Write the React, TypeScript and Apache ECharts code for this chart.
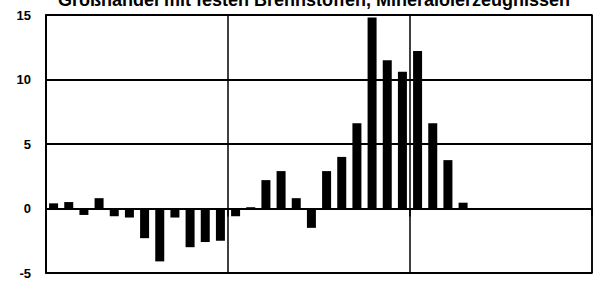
import React, { useEffect, useRef } from "react";
import * as echarts from "echarts";

const months: string[] = Array.from({ length: 36 }, (_, i) => `M${i + 1}`);
const year1: number[] = [0.4, 0.5, -0.5, 0.8, -0.6, -0.7, -2.3, -4.1, -0.7, -3.0, -2.6, -2.5];
const year2: number[] = [-0.6, 0.1, 2.2, 2.9, 0.8, -1.5, 2.9, 4.0, 6.6, 14.8, 11.5, 10.6];
const year3: number[] = [12.2, 6.6, 3.75, 0.45];
const yTicks = { min: -5, max: 15, interval: 5 };
const title = "Großhandel mit festen Brennstoffen, Mineralölerzeugnissen";

export default function App() {
  const ref = useRef<HTMLDivElement>(null);
  useEffect(() => {
    if (!ref.current) return;
    const chart = echarts.init(ref.current, null, { renderer: "svg" });
    const values: (number | null)[] = [...year1, ...year2, ...year3];
    while (values.length < months.length) values.push(null);
    chart.setOption({
      animation: false,
      textStyle: { fontFamily: "Liberation Sans, Arial, sans-serif" },
      title: {
        text: title,
        left: 58,
        top: -9,
        padding: 0,
        textStyle: { fontSize: 18, fontWeight: "bold", color: "#000", fontFamily: "Liberation Sans, Arial, sans-serif" },
      },
      grid: {
        left: 46,
        right: 4,
        top: 15,
        bottom: 8,
        show: true,
        borderColor: "#000",
        borderWidth: 1.5,
        backgroundColor: "transparent",
      },
      xAxis: {
        type: "category",
        data: months,
        boundaryGap: true,
        axisLine: { show: true, lineStyle: { color: "#000", width: 2 } },
        axisTick: { show: true, interval: 11, length: 8, lineStyle: { color: "#000", width: 1.5 } },
        axisLabel: { show: false },
        splitLine: { show: true, interval: 11, lineStyle: { color: "#000", width: 1.5 } },
      },
      yAxis: {
        type: "value",
        min: yTicks.min,
        max: yTicks.max,
        interval: yTicks.interval,
        axisLine: { show: true, lineStyle: { color: "#000", width: 2 } },
        axisTick: { show: false },
        axisLabel: { color: "#000", fontSize: 13, fontWeight: "bold", margin: 15, fontFamily: "Liberation Sans, Arial, sans-serif" },
        splitLine: { show: true, lineStyle: { color: "#000", width: 2 } },
      },
      series: [
        {
          type: "bar",
          data: values,
          barWidth: 9,
          itemStyle: { color: "#000" },
        },
      ],
    });
    return () => chart.dispose();
  }, []);
  return <div ref={ref} style={{ width: 596, height: 281, position: "absolute", left: 0, top: 0, background: "#fff" }} />;
}
